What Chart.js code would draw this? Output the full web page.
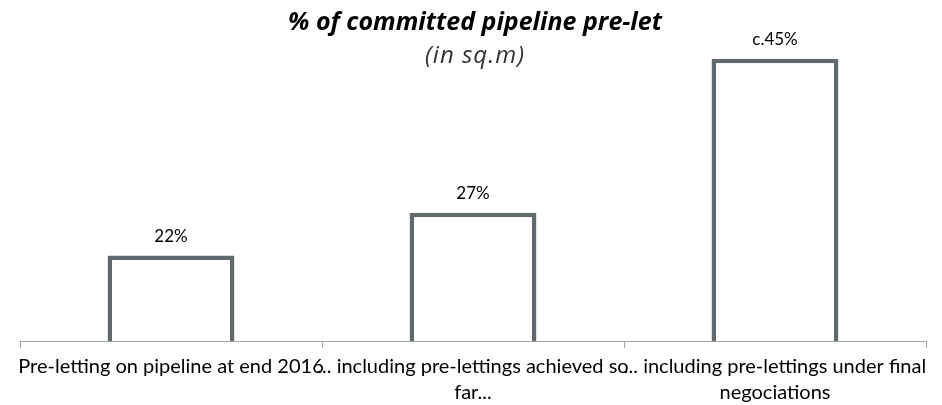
<!DOCTYPE html>
<html>
<head>
<meta charset="utf-8">
<script src="https://cdn.jsdelivr.net/npm/chart.js@4/dist/chart.umd.min.js"></script>
<style>
    body { margin: 0; background: #fff; }
    #wrap { position: relative; width: 942px; height: 405px; }
    .title {
        position: absolute; left: 475px; transform: translateX(-50%);
        white-space: nowrap; font-family: 'Open Sans', sans-serif; font-style: italic;
        line-height: 1;
    }
    #t1 { top: 8px; font-size: 25px; font-weight: 700; color: #000; }
    #t2 { top: 42px; font-size: 24px; font-weight: 400; color: #333; letter-spacing: 1px; }
</style>
</head>
<body>
<div id="wrap">
    <canvas id="chart-prelet"></canvas>
    <div class="title" id="t1">% of committed pipeline pre-let</div>
    <div class="title" id="t2">(in sq.m)</div>
</div>
<script>
// categorias (multi-linea como en el informe)
const categories = [
    ['Pre-letting on pipeline at end 2016'],
    ['... including pre-lettings achieved so', 'far...'],
    ['... including pre-lettings under final', 'negociations']
];
const preletValues = [22, 27, 45];
const valueLabels = ['22%', '27%', 'c.45%'];

// etiqueta encima de cada barra
const barLabels = {
    id: 'barLabels',
    afterDatasetsDraw(chart) {
        const ctx = chart.ctx;
        const meta = chart.getDatasetMeta(0);
        ctx.save();
        ctx.font = '17px Lato';
        ctx.fillStyle = '#000';
        ctx.textAlign = 'center';
        ctx.textBaseline = 'middle';
        meta.data.forEach((bar, i) => {
            ctx.fillText(valueLabels[i], bar.x, bar.y - 19);
        });
        ctx.restore();
    }
};

new Chart(document.getElementById('chart-prelet'), {
    type: 'bar',
    data: {
        labels: categories,
        datasets: [{
            data: preletValues,
            backgroundColor: '#ffffff',
            borderColor: '#62696c',
            borderWidth: 4.5,
            borderSkipped: false,
            barPercentage: 0.42,
            categoryPercentage: 1
        }]
    },
    options: {
        responsive: true,
        maintainAspectRatio: false,
        animation: false,
        layout: { padding: { top: 33, left: 20, right: 16, bottom: 0 } },
        scales: {
            x: {
                grid: { offset: true, drawOnChartArea: false, drawTicks: true, tickLength: 7, color: '#a6a6a6' },
                border: { display: true, color: '#a6a6a6', width: 1 },
                ticks: {
                    color: '#000',
                    font: { family: 'Lato', size: 20, lineHeight: 1.3 },
                    padding: 6,
                    maxRotation: 0,
                    autoSkip: false
                },
                afterFit(scale) { scale.height = 64; }
            },
            y: {
                display: false,
                min: 12,
                max: 48
            }
        },
        plugins: {
            legend: { display: false },
            tooltip: { enabled: false }
        }
    },
    plugins: [barLabels]
});
</script>
</body>
</html>
